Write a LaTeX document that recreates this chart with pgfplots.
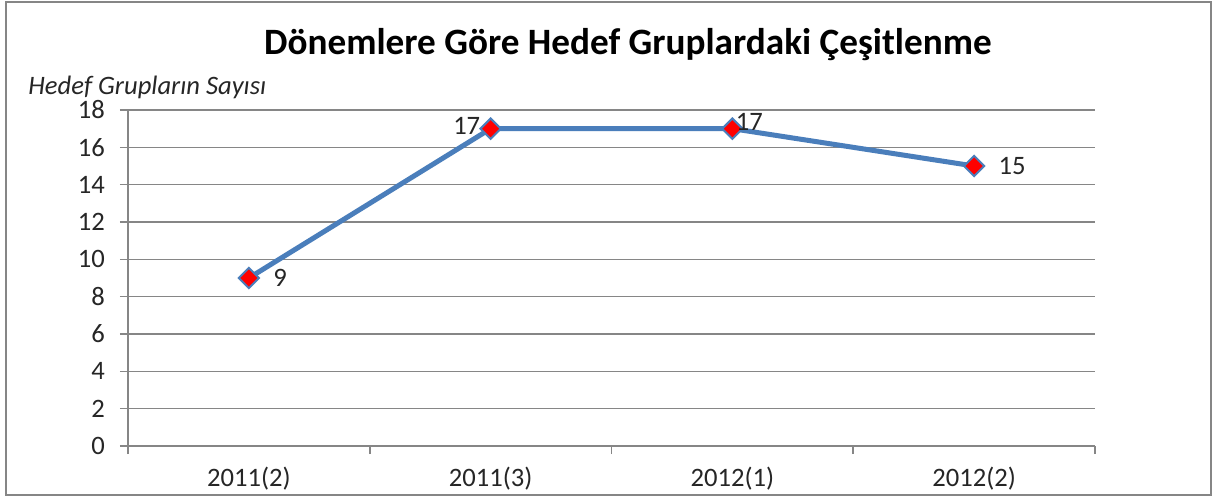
\documentclass[border=0pt]{standalone}
\usepackage{fontspec}
\setmainfont{Carlito}
\usepackage{pgfplots}
\pgfplotsset{compat=1.18}

\definecolor{linecol}{RGB}{74,126,187}
\definecolor{gridcol}{RGB}{134,134,134}
\definecolor{framecol}{RGB}{134,134,134}

\pgfplotsset{
  vlabel/.style={draw=none, forget plot, nodes near coords,
    nodes near coords style={font=\fontsize{13.3}{15}\selectfont, text=black!85, inner sep=0pt}},
}

\begin{document}
\begin{tikzpicture}
% 1 px of the reference = 0.5pt, axis south west at (0,0)
\useasboundingbox (-64pt,-26pt) rectangle (543.5pt,223pt);
\draw[framecol, line width=1.2pt, fill=white] (-61pt,-24.5pt) rectangle (541.5pt,222pt);
\begin{axis}[
    at={(0pt,0pt)}, anchor=south west,
    scale only axis,
    width=483.5pt,
    height=168pt,
    xmin=-0.5, xmax=3.5,
    ymin=0, ymax=18,
    ytick={0,2,...,18},
    xtick={0,1,2,3},
    xticklabels={2011(2),2011(3),2012(1),2012(2)},
    minor xtick={-0.5,0.5,1.5,2.5,3.5},
    axis lines*=left,
    axis line style={gridcol, line width=0.8pt},
    tick style={gridcol, line width=0.8pt},
    tick align=outside,
    major tick length=4pt,
    xtick style={draw=none},
    minor x tick style={draw=gridcol},
    minor tick length=4pt,
    ymajorgrids,
    grid style={gridcol, line width=0.8pt},
    tick label style={font=\fontsize{13.3}{15}\selectfont, text=black!85},
    /pgf/number format/assume math mode=true,
    yticklabel style={xshift=-4pt},
    xticklabel style={yshift=-3pt},
    clip=false,
]
\addplot[linecol, line width=2.5pt,
    mark=square*, mark size=3.6pt,
    mark options={fill=red, draw=linecol, line width=1pt, rotate=45}]
coordinates {
(0, 9)
(1, 17)
(2, 17)
(3, 15)
};
% value labels
\addplot[vlabel, nodes near coords style={anchor=west, xshift=12pt}] coordinates {(0, 9) (3, 15)};
\addplot[vlabel, nodes near coords style={anchor=east, xshift=-5pt, yshift=1.5pt}] coordinates {(1, 17)};
\addplot[vlabel, nodes near coords style={anchor=south west, xshift=1.5pt, yshift=-1pt}] coordinates {(2, 17)};
\end{axis}
\node[font=\fontsize{18.6}{21}\bfseries] at (250pt,200.5pt) {Dönemlere Göre Hedef Gruplardaki Çeşitlenme};
\node[anchor=west, inner sep=0pt, font=\fontsize{13.3}{15}\itshape, text=black!85] at (-50pt,179.5pt) {Hedef Grupların Sayısı};
\end{tikzpicture}
\end{document}
